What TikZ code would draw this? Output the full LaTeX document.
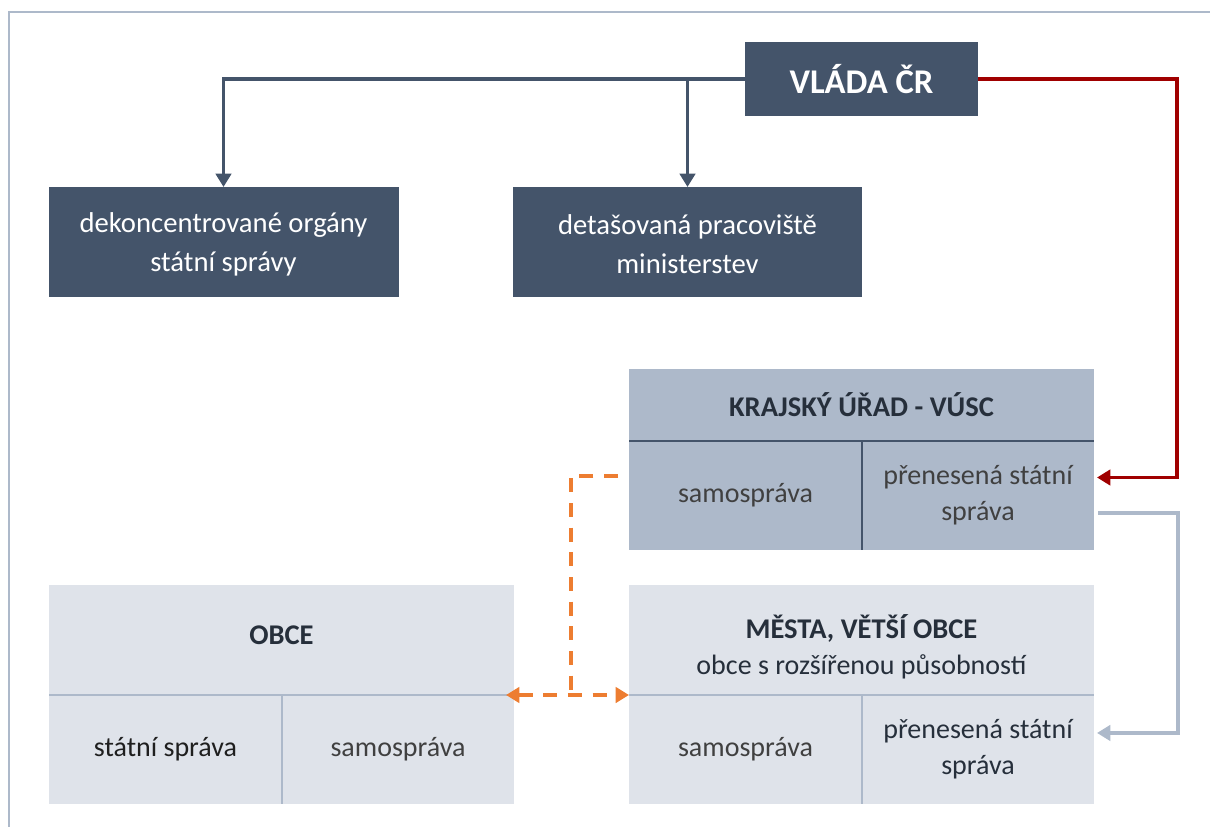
\documentclass[tikz,border=0pt]{standalone}
\usepackage{fontspec}
\setmainfont{Carlito}
\usetikzlibrary{arrows.meta}

\definecolor{navy}{HTML}{44546A}
\definecolor{steel}{HTML}{ADB9CA}
\definecolor{mist}{HTML}{DFE3EA}
\definecolor{crimson}{HTML}{A00000}
\definecolor{tangerine}{HTML}{ED7D31}
\definecolor{ink}{HTML}{262F3B}
\definecolor{bodytext}{HTML}{404040}

\begin{document}
\begin{tikzpicture}[x=0.75pt,y=-0.75pt,
  sized/.style 2 args={minimum width=#1*0.75pt, minimum height=#2*0.75pt,
                       inner sep=0pt, outer sep=0pt},
  bodyfont/.style={font=\fontsize{21}{27}\selectfont},
  darkbox/.style={fill=navy, text=white, align=center,
                  font=\fontsize{21.5}{29}\selectfont},
  upper/.style={fill=steel, text=bodytext, align=center, bodyfont},
  lower/.style={fill=mist, text=bodytext, align=center, bodyfont},
  head/.style={font=\fontsize{21.4}{27}\selectfont\bfseries, text=ink},
  title/.style={align=center, text=ink, bodyfont, inner sep=0pt},
  divdark/.style={draw=navy, line width=1.2pt},
  divlight/.style={draw=steel, line width=1.2pt},
  navylink/.style={draw=navy, line width=2.6pt,
                   -{Triangle[length=10pt,width=11.5pt]}},
  redlink/.style={draw=crimson, line width=2.6pt,
                  -{Triangle[length=10pt,width=11.5pt]}},
  steellink/.style={draw=steel, line width=2.6pt,
                    -{Triangle[length=10pt,width=11.5pt]}},
  orangedash/.style={draw=tangerine, line width=2.6pt,
                     dash pattern=on 10.5pt off 8pt},
  otip/.tip={Triangle[length=10pt,width=11.5pt]}
]
\useasboundingbox (0,0) rectangle (1210,827);

% outer frame (top and left edge)
\draw[steel, line width=1.5pt] (9,827) -- (9,12) -- (1210,12);

% government and its offices
\node[darkbox, sized={233}{74}, font=\fontsize{26}{30}\selectfont\bfseries]
  (vlada) at (861.5,79) {VLÁDA ČR};
\node[darkbox, sized={350}{110}] (dekon) at (223.5,242)
  {\rule{0pt}{18pt}dekoncentrované orgány\\státní správy};
\node[darkbox, sized={349}{110}] (detas) at (687.5,242)
  {\rule{0pt}{18pt}detašovaná pracoviště\\ministerstev};

% regional office
\node[upper, sized={465}{72}, head] (kr-head) at (861.5,405)
  {KRAJSKÝ ÚŘAD - VÚSC};
\node[upper, sized={233}{109}] (kr-samo) at (745.5,495.5) {samospráva};
\node[upper, sized={232}{109}] (kr-pss) at (978,495.5)
  {přenesená státní\\správa};
\draw[divdark] (kr-samo.north west) -- (kr-pss.north east);
\draw[divdark] (kr-pss.north west) -- (kr-pss.south west);

% towns with extended competence
\node[lower, sized={465}{110}] (ms-head) at (861.5,640) {};
\node[title] (ms-title) at ([yshift=-5pt]ms-head.center)
  {{\bfseries\fontsize{21.4}{27}\selectfont MĚSTA, VĚTŠÍ OBCE}\\
   obce s rozšířenou působností};
\node[lower, sized={233}{109}] (ms-samo) at (745.5,749.5) {samospráva};
\node[lower, sized={232}{109}, text=ink] (ms-pss) at (978,749.5)
  {přenesená státní\\správa};
\draw[divlight] (ms-samo.north west) -- (ms-pss.north east);
\draw[divlight] (ms-pss.north west) -- (ms-pss.south west);

% municipalities
\node[lower, sized={465}{110}] (ob-head) at (281.5,640) {};
\node[title, head] (ob-title) at ([yshift=3.5pt]ob-head.center) {OBCE};
\node[lower, sized={233}{109}, text=black!88] (ob-state) at (165.5,749.5)
  {státní správa};
\node[lower, sized={232}{109}] (ob-self) at (398,749.5) {samospráva};
\draw[divlight] (ob-state.north west) -- (ob-self.north east);
\draw[divlight] (ob-self.north west) -- (ob-self.south west);

% government to its offices
\draw[navylink] (vlada.west) -| (dekon.north);
\draw[navylink] (vlada.west) -| (detas.north);

% government to the delegated state administration of the region
\coordinate (redtip) at ([xshift=2.25pt,yshift=13.5pt]kr-pss.east);
\draw[redlink] (vlada.east) -| ([xshift=60pt]redtip) -- (redtip);

% region to towns
\coordinate (bluestart) at ([xshift=3pt,yshift=-13pt]kr-pss.east);
\coordinate (bluetip) at ([xshift=2.25pt,yshift=12.4pt]ms-pss.east);
\draw[steellink] (bluestart) -- ++(60pt,0) |- (bluetip);

% self-government links
\coordinate (orstart) at ([xshift=-8.25pt,yshift=14.6pt]kr-samo.west);
\coordinate (orjoin) at ([xshift=-43.5pt]ms-samo.north west);
\draw[orangedash] (orstart) -| (orjoin);
\draw[orangedash, otip-otip] ([xshift=-6pt]ob-head.south east)
  -- (ms-head.south west);
\end{tikzpicture}
\end{document}
